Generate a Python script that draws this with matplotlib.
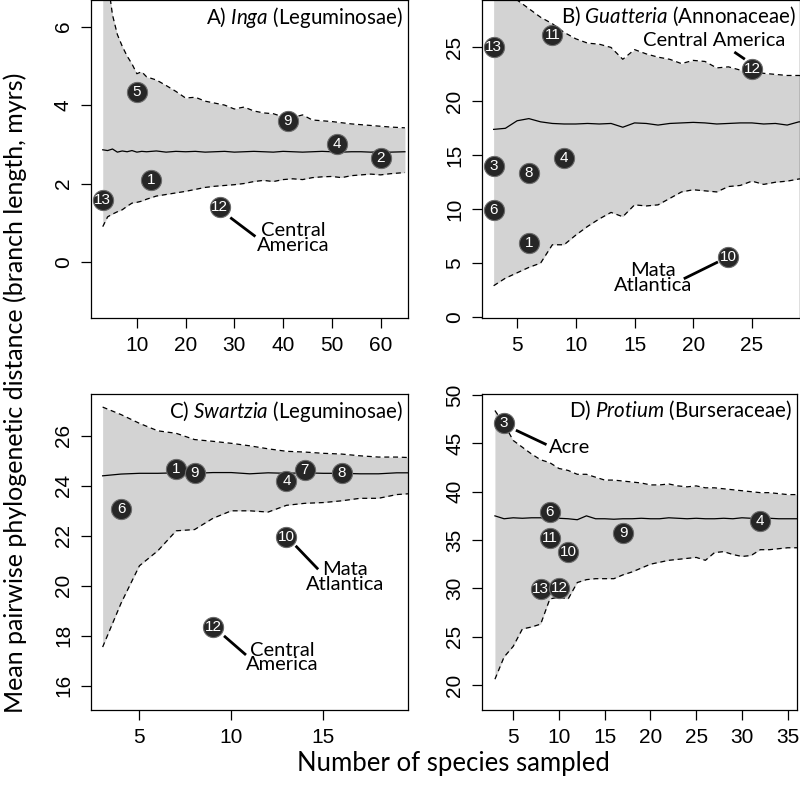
import matplotlib
matplotlib.use("Agg")
import matplotlib.pyplot as plt

plt.rcParams['mathtext.fontset'] = 'custom'
plt.rcParams['mathtext.rm'] = 'Lato'
plt.rcParams['mathtext.it'] = 'Lato:italic'

# ---- A) Inga ----
a_x = [3, 4, 5, 6, 7, 8, 9, 10, 11, 12, 14, 16, 18, 20, 22, 24, 26, 28, 30, 32, 34,
       36, 38, 40, 42, 44, 46, 48, 50, 52, 54, 56, 58, 60, 62, 65]
a_up = [8.5, 7.2, 6.3, 5.8, 5.5, 5.25, 5.05, 4.8, 4.85, 4.72, 4.64, 4.5, 4.35, 4.18, 4.2,
        4.1, 4.05, 4.0, 3.9, 3.95, 3.85, 3.8, 3.78, 3.7, 3.68, 3.75, 3.62, 3.6, 3.58, 3.55,
        3.52, 3.5, 3.48, 3.46, 3.44, 3.42]
a_lo = [0.9, 1.15, 1.22, 1.28, 1.33, 1.42, 1.5, 1.52, 1.55, 1.6, 1.68, 1.72, 1.76, 1.8,
        1.85, 1.9, 1.93, 1.95, 1.97, 2.0, 2.05, 2.08, 2.05, 2.1, 2.12, 2.1, 2.15, 2.17,
        2.18, 2.15, 2.2, 2.22, 2.24, 2.22, 2.25, 2.28]
a_mean = [2.86, 2.84, 2.88, 2.8, 2.83, 2.81, 2.84, 2.8, 2.82, 2.81, 2.83, 2.8, 2.82, 2.81,
          2.82, 2.8, 2.81, 2.82, 2.8, 2.81, 2.82, 2.81, 2.8, 2.82, 2.81, 2.8, 2.81, 2.82,
          2.81, 2.8, 2.81, 2.81, 2.8, 2.81, 2.8, 2.81]
a_sites = ['5', '9', '4', '2', '1', '13', '12']
a_n = [10, 41, 51, 60, 13, 3, 27]
a_mpd = [4.34, 3.6, 3.0, 2.65, 2.1, 1.58, 1.4]

# ---- B) Guatteria ----
b_x = list(range(3, 31))
b_up = [32, 30.5, 29.4, 28.6, 27.8, 27.2, 26.4, 25.8, 25.4, 25.3, 25.0, 23.9, 24.8, 24.4,
        24.1, 23.9, 23.5, 23.8, 23.7, 23.1, 23.2, 22.9, 22.8, 22.6, 22.5, 22.4, 22.4, 22.3]
b_lo = [2.9, 3.6, 4.1, 4.6, 5.0, 6.7, 6.7, 7.6, 8.4, 9.1, 9.7, 9.3, 10.4, 10.3, 10.4, 11.0,
        11.6, 11.8, 11.7, 11.6, 12.1, 12.2, 12.6, 12.3, 12.5, 12.6, 12.8, 12.9]
b_mean = [17.4, 17.5, 18.2, 18.4, 18.1, 17.95, 17.9, 17.9, 17.95, 17.9, 17.95, 17.6, 18.0,
          17.95, 17.8, 17.95, 18.0, 18.05, 18.0, 17.9, 17.95, 18.0, 18.0, 17.9, 17.95,
          17.8, 18.1, 18.1]
b_sites = ['13', '11', '12', '3', '8', '4', '6', '1', '10']
b_n = [3, 8, 25, 3, 6, 9, 3, 6, 23]
b_mpd = [25.0, 26.2, 23.0, 14.0, 13.35, 14.75, 9.9, 6.9, 5.6]

# ---- C) Swartzia ----
c_x = list(range(3, 21))
c_up = [27.15, 26.85, 26.5, 26.2, 26.1, 25.85, 25.78, 25.7, 25.6, 25.48, 25.38, 25.35,
        25.3, 25.27, 25.2, 25.15, 25.15, 25.12]
c_lo = [17.55, 19.3, 20.8, 21.4, 22.2, 22.25, 22.7, 23.0, 23.0, 22.95, 23.22, 23.3, 23.33,
        23.4, 23.5, 23.5, 23.65, 23.7]
c_mean = [24.4, 24.47, 24.5, 24.5, 24.52, 24.5, 24.53, 24.53, 24.48, 24.52, 24.5, 24.52,
          24.5, 24.5, 24.48, 24.48, 24.52, 24.52]
c_sites = ['1', '9', '4', '7', '8', '6', '10', '12']
c_n = [7, 8, 13, 14, 16, 4, 13, 9]
c_mpd = [24.67, 24.52, 24.2, 24.65, 24.5, 23.07, 21.96, 18.36]

# ---- D) Protium ----
d_x = list(range(3, 38))
d_up = [48.4, 47.0, 45.3, 44.6, 43.9, 43.3, 43.0, 42.4, 42.2, 41.8, 41.8, 41.5, 41.2, 41.2,
        41.1, 41.0, 40.9, 40.7, 40.7, 40.8, 40.6, 40.5, 40.6, 40.4, 40.4, 40.3, 40.2, 40.1,
        40.0, 39.9, 39.9, 39.8, 39.7, 39.7, 39.6]
d_lo = [20.6, 22.9, 24.0, 25.8, 26.0, 26.3, 28.9, 29.1, 28.9, 30.6, 30.9, 31.0, 31.0, 31.0,
        31.4, 31.7, 32.1, 32.5, 32.7, 32.9, 33.0, 33.1, 33.2, 32.9, 33.7, 33.8, 33.5, 33.3,
        33.4, 34.0, 34.0, 34.1, 34.2, 34.2, 34.3]
d_mean = [37.5, 37.2, 37.3, 37.25, 37.3, 37.3, 37.2, 37.25, 37.2, 37.1, 37.5, 37.2, 37.2,
          37.15, 37.2, 37.2, 37.25, 37.2, 37.2, 37.3, 37.25, 37.2, 37.25, 37.2, 37.2, 37.25,
          37.2, 37.3, 37.25, 37.2, 37.25, 37.2, 37.2, 37.2, 37.2]
d_sites = ['3', '6', '11', '10', '9', '4', '13', '12']
d_n = [4, 9, 9, 11, 17, 32, 8, 10]
d_mpd = [47.1, 37.93, 35.24, 33.8, 35.7, 37.0, 29.9, 30.07]

fig = plt.figure(figsize=(8, 7.85), dpi=100)
axA = fig.add_axes([0.1138, 0.5949, 0.396, 0.4051])
axB = fig.add_axes([0.6031, 0.5955, 0.397, 0.4045])
axC = fig.add_axes([0.1138, 0.0955, 0.396, 0.4025])
axD = fig.add_axes([0.6031, 0.0955, 0.393, 0.4025])

TXT = 'Lato'
TICK = 'Liberation Sans'


def panel(ax, x, up, lo, mean, n, mpd, sites, title, xlim, ylim, xt, yt):
    ax.fill_between(x, lo, up, color='#d3d3d3', lw=0)
    ax.plot(x, mean, color='black', lw=0.9)
    ax.plot(x, up, color='black', lw=0.9, ls=(0, (4, 3)))
    ax.plot(x, lo, color='black', lw=0.9, ls=(0, (4, 3)))
    ax.plot(n, mpd, 'o', ms=14.5, mfc='#262626', mec='#6a6a6a', mew=0.8, ls='none', zorder=4)
    for xi, yi, s in zip(n, mpd, sites):
        ax.text(xi, yi, s, color='white', fontsize=11, ha='center', va='center',
                family='Liberation Sans', zorder=5)
    ax.set_xlim(xlim)
    ax.set_ylim(ylim)
    ax.set_xticks(xt)
    ax.set_yticks(yt)
    ax.tick_params(direction='out', length=7.5, width=0.9, labelsize=15, pad=5.5)
    for lab in ax.get_xticklabels():
        lab.set_family(TICK)
    for lab in ax.get_yticklabels():
        lab.set_family(TICK)
        lab.set_rotation(90)
        lab.set_va('center')
    for sp in ax.spines.values():
        sp.set_linewidth(0.9)
    ax.text(0.985, 0.985, title, transform=ax.transAxes, ha='right', va='top',
            fontsize=14.8, family=TXT)


panel(axA, a_x, a_up, a_lo, a_mean, a_n, a_mpd, a_sites,
      r'A) $\mathit{Inga}$ (Leguminosae)', (0.6, 65.6), (-1.43, 6.68),
      [10, 20, 30, 40, 50, 60], [0, 2, 4, 6])
panel(axB, b_x, b_up, b_lo, b_mean, b_n, b_mpd, b_sites,
      r'B) $\mathit{Guatteria}$ (Annonaceae)', (2.05, 29.1), (-0.05, 29.4),
      [5, 10, 15, 20, 25], [0, 5, 10, 15, 20, 25])
panel(axC, c_x, c_up, c_lo, c_mean, c_n, c_mpd, c_sites,
      r'C) $\mathit{Swartzia}$ (Leguminosae)', (2.37, 19.6), (15.03, 27.67),
      [5, 10, 15], [16, 18, 20, 22, 24, 26])
panel(axD, d_x, d_up, d_lo, d_mean, d_n, d_mpd, d_sites,
      r'D) $\mathit{Protium}$ (Burseraceae)', (1.64, 36.0), (17.41, 50.1),
      [5, 10, 15, 20, 25, 30, 35], [20, 25, 30, 35, 40, 45, 50])

# region call-outs
axA.plot([29.4, 34.1], [1.11, 0.67], color='black', lw=2)
axA.text(42, 0.6, 'Central\nAmerica', ha='center', va='center', fontsize=14.5,
         family=TXT, linespacing=0.85)
axB.plot([23.6, 24.3], [24.5, 23.98], color='black', lw=2)
axB.text(21.8, 25.6, 'Central America', ha='center', va='center', fontsize=14.5, family=TXT)
axB.plot([19.3, 22.0], [3.6, 5.05], color='black', lw=2)
axB.text(16.6, 3.65, 'Mata\nAtlantica', ha='center', va='center', fontsize=14.5,
         family=TXT, linespacing=0.85)
axC.plot([13.55, 14.67], [21.56, 20.7], color='black', lw=2)
axC.text(16.2, 20.36, 'Mata\nAtlantica', ha='center', va='center', fontsize=14.5,
         family=TXT, linespacing=0.85)
axC.plot([9.66, 10.74], [17.96, 17.27], color='black', lw=2)
axC.text(12.77, 17.13, 'Central\nAmerica', ha='center', va='center', fontsize=14.5,
         family=TXT, linespacing=0.85)
axD.plot([5.43, 8.5], [46.3, 44.93], color='black', lw=2)
axD.text(11.2, 44.6, 'Acre', ha='center', va='center', fontsize=14.5, family=TXT)

fig.text(0.567, 0.027, 'Number of species sampled', ha='center', va='center',
         fontsize=18.5, family=TXT)
fig.text(0.019, 0.5, 'Mean pairwise phylogenetic distance (branch length, myrs)',
         ha='center', va='center', rotation=90, fontsize=18, family=TXT)

fig.savefig('out.png', dpi=100)
